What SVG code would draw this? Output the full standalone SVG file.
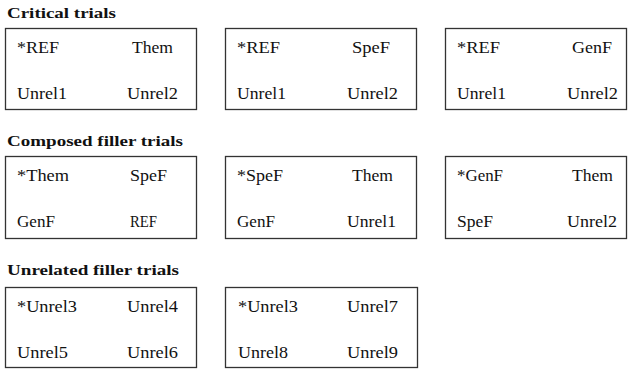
<svg xmlns="http://www.w3.org/2000/svg" width="631" height="369" viewBox="0 0 631 369">
<style>
.box{fill:#fff;stroke:#333;stroke-width:1.3}
</style>
<rect width="631" height="369" fill="#fff"/>
<g id="headers" font-family="Liberation Serif, Times New Roman, serif" font-size="15.5" font-weight="bold" fill="#111">
<text x="7" y="18" textLength="109" lengthAdjust="spacingAndGlyphs">Critical trials</text>
<text x="7" y="146" textLength="176" lengthAdjust="spacingAndGlyphs">Composed filler trials</text>
<text x="7" y="275" textLength="172" lengthAdjust="spacingAndGlyphs">Unrelated filler trials</text>
</g>
<g font-family="Liberation Serif, Times New Roman, serif" font-size="17" fill="#111">
<g id="c1">
<rect class="box" x="5.5" y="28.5" width="191" height="81"/>
<text x="17" y="53" textLength="42" lengthAdjust="spacingAndGlyphs">*REF</text>
<text x="132" y="53" textLength="41" lengthAdjust="spacingAndGlyphs">Them</text>
<text x="17" y="99" textLength="50" lengthAdjust="spacingAndGlyphs">Unrel1</text>
<text x="127" y="99" textLength="51" lengthAdjust="spacingAndGlyphs">Unrel2</text>
</g>
<g id="c2">
<rect class="box" x="225.5" y="28.5" width="191" height="81"/>
<text x="237" y="53" textLength="43" lengthAdjust="spacingAndGlyphs">*REF</text>
<text x="352" y="53" textLength="38" lengthAdjust="spacingAndGlyphs">SpeF</text>
<text x="237" y="99" textLength="49" lengthAdjust="spacingAndGlyphs">Unrel1</text>
<text x="347" y="99" textLength="51" lengthAdjust="spacingAndGlyphs">Unrel2</text>
</g>
<g id="c3">
<rect class="box" x="445.5" y="28.5" width="181" height="81"/>
<text x="457" y="53" textLength="43" lengthAdjust="spacingAndGlyphs">*REF</text>
<text x="572" y="53" textLength="40" lengthAdjust="spacingAndGlyphs">GenF</text>
<text x="457" y="99" textLength="49" lengthAdjust="spacingAndGlyphs">Unrel1</text>
<text x="567" y="99" textLength="51" lengthAdjust="spacingAndGlyphs">Unrel2</text>
</g>
<g id="f1">
<rect class="box" x="5.5" y="156.5" width="191" height="82"/>
<text x="17" y="181" textLength="52" lengthAdjust="spacingAndGlyphs">*Them</text>
<text x="130" y="181" textLength="37" lengthAdjust="spacingAndGlyphs">SpeF</text>
<text x="17" y="227" textLength="38" lengthAdjust="spacingAndGlyphs">GenF</text>
<text x="130" y="227" textLength="27" lengthAdjust="spacingAndGlyphs">REF</text>
</g>
<g id="f2">
<rect class="box" x="225.5" y="156.5" width="191" height="82"/>
<text x="237" y="181" textLength="46" lengthAdjust="spacingAndGlyphs">*SpeF</text>
<text x="352" y="181" textLength="41" lengthAdjust="spacingAndGlyphs">Them</text>
<text x="237" y="227" textLength="38" lengthAdjust="spacingAndGlyphs">GenF</text>
<text x="347" y="227" textLength="49" lengthAdjust="spacingAndGlyphs">Unrel1</text>
</g>
<g id="f3">
<rect class="box" x="445.5" y="156.5" width="181" height="82"/>
<text x="457" y="181" textLength="46" lengthAdjust="spacingAndGlyphs">*GenF</text>
<text x="572" y="181" textLength="41" lengthAdjust="spacingAndGlyphs">Them</text>
<text x="457" y="227" textLength="36" lengthAdjust="spacingAndGlyphs">SpeF</text>
<text x="567" y="227" textLength="50" lengthAdjust="spacingAndGlyphs">Unrel2</text>
</g>
<g id="u1">
<rect class="box" x="5.5" y="287.5" width="191" height="80"/>
<text x="17" y="312" textLength="60" lengthAdjust="spacingAndGlyphs">*Unrel3</text>
<text x="127" y="312" textLength="51" lengthAdjust="spacingAndGlyphs">Unrel4</text>
<text x="17" y="358" textLength="51" lengthAdjust="spacingAndGlyphs">Unrel5</text>
<text x="127" y="358" textLength="51" lengthAdjust="spacingAndGlyphs">Unrel6</text>
</g>
<g id="u2">
<rect class="box" x="225.5" y="287.5" width="192" height="80"/>
<text x="238" y="312" textLength="60" lengthAdjust="spacingAndGlyphs">*Unrel3</text>
<text x="347" y="312" textLength="51" lengthAdjust="spacingAndGlyphs">Unrel7</text>
<text x="238" y="358" textLength="50" lengthAdjust="spacingAndGlyphs">Unrel8</text>
<text x="347" y="358" textLength="51" lengthAdjust="spacingAndGlyphs">Unrel9</text>
</g>
</g>
<g id="connectors"/>
</svg>
